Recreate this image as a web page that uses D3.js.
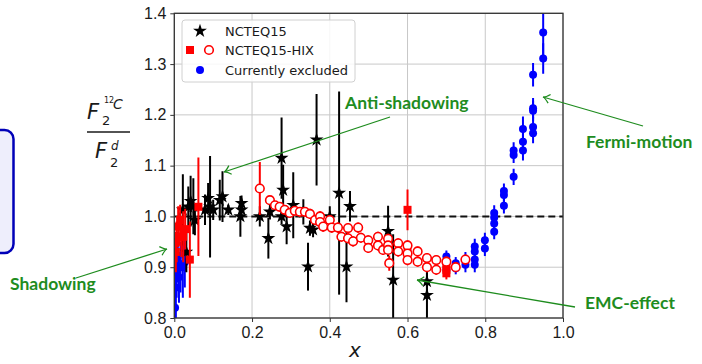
<!DOCTYPE html>
<html>
<head>
<meta charset="utf-8">
<script src="https://cdn.jsdelivr.net/npm/d3@7"></script>
<style>body{margin:0;background:#fff;}</style>
</head>
<body>
<div id="chart"></div>
<script>
// NCTEQ15 (black stars)
const nctX   = [0.022, 0.031, 0.036, 0.042, 0.049, 0.053, 0.079, 0.087, 0.092, 0.100, 0.117, 0.124, 0.139, 0.170, 0.173, 0.173, 0.220, 0.242, 0.246, 0.276, 0.276, 0.280, 0.289, 0.306, 0.332, 0.344, 0.349, 0.357, 0.366, 0.400, 0.424, 0.443, 0.452, 0.550, 0.563, 0.650, 0.650];
const nctY   = [1.013, 0.930, 1.019, 1.030, 1.020, 0.993, 1.013, 1.036, 1.019, 1.013, 1.032, 1.039, 1.013, 1.000, 1.013, 1.026, 1.000, 0.957, 1.009, 1.115, 1.000, 1.052, 0.980, 1.022, 1.009, 0.901, 0.977, 0.974, 1.151, 1.000, 1.046, 0.901, 1.020, 0.971, 0.875, 0.872, 0.845];
const nctErr = [0.070, 0.040, 0.040, 0.050, 0.055, 0.030, 0.030, 0.030, 0.100, 0.020, 0.040, 0.050, 0.010, 0.040, 0.015, 0.015, 0.020, 0.040, 0.015, 0.080, 0.015, 0.050, 0.035, 0.065, 0.025, 0.047, 0.015, 0.015, 0.090, 0.020, 0.200, 0.070, 0.030, 0.050, 0.090, 0.020, 0.045];

// NCTEQ15-HIX (open circles)
const hixX   = [0.220, 0.246, 0.259, 0.271, 0.284, 0.297, 0.310, 0.323, 0.336, 0.349, 0.362, 0.375, 0.375, 0.383, 0.400, 0.405, 0.421, 0.430, 0.447, 0.447, 0.460, 0.473, 0.480, 0.499, 0.499, 0.524, 0.524, 0.537, 0.550, 0.550, 0.550, 0.553, 0.576, 0.576, 0.600, 0.600, 0.600, 0.626, 0.626, 0.650, 0.650, 0.674, 0.674, 0.700, 0.724, 0.749];
const hixY   = [1.055, 1.032, 1.022, 1.019, 1.013, 1.007, 1.011, 1.009, 1.009, 1.005, 0.993, 1.000, 0.989, 0.980, 0.993, 0.978, 0.978, 0.960, 0.977, 0.957, 0.951, 0.978, 0.958, 0.953, 0.938, 0.960, 0.943, 0.934, 0.956, 0.943, 0.934, 0.908, 0.947, 0.931, 0.943, 0.927, 0.914, 0.931, 0.911, 0.918, 0.900, 0.914, 0.895, 0.911, 0.900, 0.915];
const hixErr = [0.052, 0.008, 0.008, 0.008, 0.008, 0.008, 0.008, 0.008, 0.008, 0.010, 0.010, 0.010, 0.010, 0.010, 0.010, 0.010, 0.010, 0.010, 0.010, 0.010, 0.010, 0.010, 0.010, 0.010, 0.010, 0.010, 0.010, 0.010, 0.010, 0.010, 0.010, 0.015, 0.010, 0.010, 0.010, 0.010, 0.010, 0.010, 0.010, 0.010, 0.010, 0.010, 0.010, 0.010, 0.010, 0.010];

// NCTEQ15-HIX (filled squares)
const sqX   = [0.004, 0.006, 0.010, 0.015, 0.018, 0.023, 0.028, 0.040, 0.062, 0.600, 0.600, 0.600, 0.700, 0.700, 0.700];
const sqY   = [0.930, 0.950, 0.980, 0.993, 0.960, 0.960, 0.975, 0.915, 1.019, 1.013, 0.930, 0.920, 0.905, 0.895, 0.888];
const sqErr = [0.040, 0.040, 0.040, 0.030, 0.040, 0.050, 0.040, 0.075, 0.097, 0.040, 0.012, 0.012, 0.012, 0.012, 0.012];

// Currently excluded (blue dots)
const exX   = [0.002, 0.004, 0.006, 0.009, 0.012, 0.016, 0.022, 0.027, 0.700, 0.700, 0.700, 0.724, 0.724, 0.749, 0.749, 0.773, 0.773, 0.773, 0.773, 0.799, 0.799, 0.823, 0.823, 0.823, 0.823, 0.848, 0.848, 0.848, 0.873, 0.873, 0.873, 0.897, 0.897, 0.897, 0.923, 0.923, 0.923, 0.923, 0.923, 0.949, 0.949];
const exY   = [0.820, 0.860, 0.890, 0.920, 0.880, 0.900, 0.900, 0.910, 0.921, 0.908, 0.895, 0.908, 0.898, 0.915, 0.905, 0.941, 0.931, 0.915, 0.905, 0.953, 0.937, 1.007, 0.998, 0.986, 0.970, 1.050, 1.042, 1.021, 1.130, 1.121, 1.078, 1.172, 1.147, 1.130, 1.213, 1.208, 1.176, 1.164, 1.279, 1.362, 1.311];
const exErr = [0.040, 0.060, 0.050, 0.050, 0.050, 0.050, 0.060, 0.050, 0.012, 0.012, 0.012, 0.012, 0.012, 0.015, 0.015, 0.015, 0.015, 0.015, 0.015, 0.015, 0.015, 0.015, 0.015, 0.015, 0.015, 0.015, 0.015, 0.015, 0.016, 0.016, 0.016, 0.025, 0.020, 0.020, 0.020, 0.020, 0.020, 0.020, 0.023, 0.050, 0.030];

const xTicks = [0.0, 0.2, 0.4, 0.6, 0.8, 1.0];
const yTicks = [0.8, 0.9, 1.0, 1.1, 1.2, 1.3, 1.4];

const W = 702, H = 364;
const green = "#1e8c1e";

const svg = d3.select("#chart").append("svg")
  .attr("width", W).attr("height", H)
  .style("font-family", "'DejaVu Sans', sans-serif");

const x = d3.scaleLinear().domain([0, 1]).range([174.3, 563]);
const y = d3.scaleLinear().domain([0.8, 1.4]).range([318, 13.3]);

// blue box on the left (cut off)
svg.append("rect")
  .attr("x", -30).attr("y", 130).attr("width", 43.5).attr("height", 123)
  .attr("rx", 9)
  .attr("fill", "#eeeefc").attr("stroke", "#0000b8").attr("stroke-width", 2.5);

// grid
svg.append("g")
  .selectAll("line.gx").data(xTicks).enter().append("line")
  .attr("x1", d => x(d)).attr("x2", d => x(d))
  .attr("y1", y(0.8)).attr("y2", y(1.4))
  .attr("stroke", "#c8c8c8").attr("stroke-width", 1);
svg.append("g")
  .selectAll("line.gy").data(yTicks).enter().append("line")
  .attr("x1", x(0)).attr("x2", x(1))
  .attr("y1", d => y(d)).attr("y2", d => y(d))
  .attr("stroke", "#c8c8c8").attr("stroke-width", 1);

// axes
const xAxis = svg.append("g")
  .attr("transform", `translate(0,${y(0.8)})`)
  .call(d3.axisBottom(x).tickValues(xTicks).tickFormat(d3.format(".1f")).tickSize(4).tickPadding(5));
const yAxis = svg.append("g")
  .attr("transform", `translate(${x(0)},0)`)
  .call(d3.axisLeft(y).tickValues(yTicks).tickFormat(d3.format(".1f")).tickSize(4).tickPadding(4));
[xAxis, yAxis].forEach(a => {
  a.select(".domain").remove();
  a.selectAll("text").style("font-size", "16px").attr("fill", "#1a1a1a");
  a.selectAll("line").attr("stroke", "#333");
});

svg.append("defs").append("clipPath").attr("id", "clip")
  .append("rect").attr("x", x(0)).attr("y", y(1.4))
  .attr("width", x(1) - x(0)).attr("height", y(0.8) - y(1.4));

const plot = svg.append("g").attr("clip-path", "url(#clip)");

// dashed line at 1
plot.append("line")
  .attr("x1", x(0)).attr("x2", x(1)).attr("y1", y(1)).attr("y2", y(1))
  .attr("stroke", "#111").attr("stroke-width", 2).attr("stroke-dasharray", "7,4");

function errBars(xs, ys, es, color) {
  plot.append("g").selectAll("line").data(xs).enter().append("line")
    .attr("x1", (d, i) => x(d)).attr("x2", (d, i) => x(d))
    .attr("y1", (d, i) => y(ys[i] + es[i])).attr("y2", (d, i) => y(ys[i] - es[i]))
    .attr("stroke", color).attr("stroke-width", 2);
}

// excluded
errBars(exX, exY, exErr, "#0000ff");
plot.append("g").selectAll("circle").data(exX).enter().append("circle")
  .attr("cx", d => x(d)).attr("cy", (d, i) => y(exY[i])).attr("r", 4)
  .attr("fill", "#0000ff");

// NCTEQ15 stars
errBars(nctX, nctY, nctErr, "#000");
const star = d3.symbol().type(d3.symbolStar).size(60);
plot.append("g").selectAll("path").data(nctX).enter().append("path")
  .attr("d", star)
  .attr("transform", (d, i) => `translate(${x(d)},${y(nctY[i])})`)
  .attr("fill", "#000");

// HIX
errBars(sqX, sqY, sqErr, "#ff0000");
plot.append("g").selectAll("rect").data(sqX).enter().append("rect")
  .attr("x", d => x(d) - 4).attr("y", (d, i) => y(sqY[i]) - 4)
  .attr("width", 8).attr("height", 8).attr("fill", "#ff0000");
errBars(hixX, hixY, hixErr, "#ff0000");
plot.append("g").selectAll("circle").data(hixX).enter().append("circle")
  .attr("cx", d => x(d)).attr("cy", (d, i) => y(hixY[i])).attr("r", 4.3)
  .attr("fill", "#fff").attr("stroke", "#ff0000").attr("stroke-width", 1.6);

// frame
svg.append("rect")
  .attr("x", x(0)).attr("y", y(1.4))
  .attr("width", x(1) - x(0)).attr("height", y(0.8) - y(1.4))
  .attr("fill", "none").attr("stroke", "#333").attr("stroke-width", 1.3);

// legend
const leg = svg.append("g");
leg.append("rect")
  .attr("x", 182).attr("y", 20).attr("width", 173).attr("height", 62).attr("rx", 3)
  .attr("fill", "#fff").attr("fill-opacity", 0.85).attr("stroke", "#d0d0d0");
leg.append("path").attr("d", star).attr("transform", "translate(200,31)").attr("fill", "#000");
leg.append("rect").attr("x", 186).attr("y", 46).attr("width", 8).attr("height", 8).attr("fill", "#ff0000");
leg.append("circle").attr("cx", 209).attr("cy", 50).attr("r", 4.3)
  .attr("fill", "#fff").attr("stroke", "#ff0000").attr("stroke-width", 1.6);
leg.append("circle").attr("cx", 200).attr("cy", 70).attr("r", 4).attr("fill", "#0000ff");
[["NCTEQ15", 31], ["NCTEQ15-HIX", 50], ["Currently excluded", 70]].forEach(([t, yy]) => {
  leg.append("text").attr("x", 225).attr("y", yy + 4.5)
    .style("font-size", "13px").attr("fill", "#1a1a1a").text(t);
});

// axis label x
svg.append("text").attr("x", 355).attr("y", 357)
  .attr("text-anchor", "middle")
  .style("font-size", "20px").style("font-style", "italic").attr("fill", "#1a1a1a")
  .text("x");

// y label: F2^12C / F2^d
const yl = svg.append("g").attr("fill", "#1a1a1a").style("font-style", "italic");
yl.append("text").attr("x", 87).attr("y", 119).style("font-size", "21px").text("F");
yl.append("text").attr("x", 102).attr("y", 125).style("font-size", "13px").style("font-style", "normal").text("2");
yl.append("text").attr("x", 104).attr("y", 103).style("font-size", "8px").style("font-style", "normal").text("12");
yl.append("text").attr("x", 113).attr("y", 109).style("font-size", "14px").text("C");
svg.append("line").attr("x1", 87).attr("x2", 130).attr("y1", 132).attr("y2", 132)
  .attr("stroke", "#1a1a1a").attr("stroke-width", 1.6);
yl.append("text").attr("x", 95).attr("y", 158).style("font-size", "21px").text("F");
yl.append("text").attr("x", 110).attr("y", 167).style("font-size", "13px").style("font-style", "normal").text("2");
yl.append("text").attr("x", 111).attr("y", 150).style("font-size", "12px").text("d");

// annotations
const ann = svg.append("g");
function arrow(x1, y1, x2, y2) {
  ann.append("line").attr("x1", x1).attr("y1", y1).attr("x2", x2).attr("y2", y2)
    .attr("stroke", green).attr("stroke-width", 1.3);
  const a = Math.atan2(y2 - y1, x2 - x1), L = 8, w = 0.6;
  ann.append("path")
    .attr("d", `M${x2 - L * Math.cos(a - w)},${y2 - L * Math.sin(a - w)} Q${x2 - 2 * Math.cos(a)},${y2 - 2 * Math.sin(a)} ${x2},${y2} Q${x2 - 2 * Math.cos(a)},${y2 - 2 * Math.sin(a)} ${x2 - L * Math.cos(a + w)},${y2 - L * Math.sin(a + w)}`)
    .attr("fill", "none").attr("stroke", green).attr("stroke-width", 1.3);
}
arrow(390, 117, 224, 172);
arrow(643, 126, 543, 97);
arrow(76, 278, 167, 249);
arrow(575, 307, 417, 280);

[["Anti-shadowing", 345, 109], ["Fermi-motion", 586, 148], ["Shadowing", 10, 290], ["EMC-effect", 585, 309]].forEach(([t, xx, yy]) => {
  ann.append("text").attr("x", xx).attr("y", yy)
    .style("font-family", "Lato, sans-serif").style("font-weight", "bold")
    .style("font-size", "17.5px").attr("fill", green).text(t);
});
</script>
</body>
</html>
